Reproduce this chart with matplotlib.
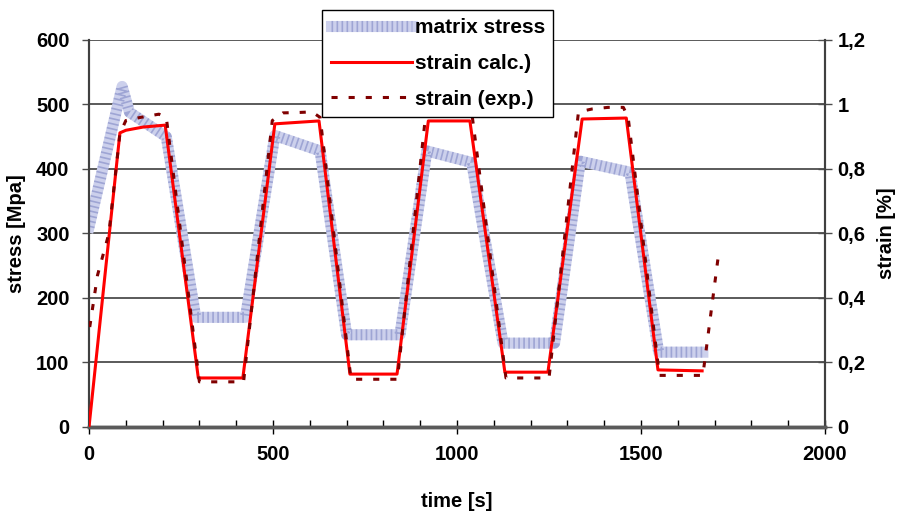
import matplotlib
matplotlib.use('Agg')
import matplotlib.pyplot as plt
from matplotlib.ticker import MultipleLocator, FixedLocator, FuncFormatter
from matplotlib.legend_handler import HandlerTuple

plt.rcParams['font.family'] = ['Liberation Sans', 'DejaVu Sans']
plt.rcParams['font.weight'] = 'bold'

# matrix stress [MPa] vs time [s]
t_matrix = [0, 90, 110, 210, 290, 425, 505, 628, 700, 845, 918, 1040, 1125, 1265, 1335, 1470, 1548, 1668]
matrix_stress = [310, 528, 488, 450, 170, 170, 452, 428, 143, 143, 428, 410, 130, 130, 412, 395, 116, 116]

# calculated strain [%]
t_calc = [0, 84, 100, 147, 207, 297, 418, 505, 625, 709, 837, 922, 1035, 1130, 1247, 1340, 1460, 1546, 1666]
strain_calc = [0, 0.912, 0.92, 0.93, 0.936, 0.152, 0.152, 0.94, 0.949, 0.164, 0.164, 0.949, 0.949,
               0.17, 0.17, 0.955, 0.958, 0.177, 0.174]

# measured strain [%]
t_exp = [2, 23, 54, 84, 100, 140, 190, 210, 300, 420, 498, 527, 565, 606, 628, 712, 838, 915, 960,
         1000, 1040, 1133, 1250, 1330, 1367, 1410, 1452, 1465, 1550, 1668, 1710]
strain_exp = [0.31, 0.47, 0.60, 0.91, 0.95, 0.96, 0.97, 0.96, 0.14, 0.14, 0.95, 0.974, 0.975, 0.977, 0.96,
              0.148, 0.148, 0.97, 0.98, 0.98, 0.975, 0.152, 0.152, 0.977, 0.986, 0.991, 0.991, 0.96,
              0.16, 0.16, 0.53]

y2_ticks = [0, 0.2, 0.4, 0.6, 0.8, 1.0, 1.2]

fs = 14.5
fig = plt.figure(figsize=(9, 5.18), dpi=100)
ax = fig.add_axes([0.0989, 0.1757, 0.8178, 0.7471])
ax2 = ax.twinx()

# textured band for matrix stress
band1, = ax.plot(t_matrix, matrix_stress, color='#ccd0ec', lw=8, solid_joinstyle='round', zorder=2)
band2, = ax.plot(t_matrix, matrix_stress, color='#4a55a8', lw=8, alpha=0.35,
                 dashes=(0.15, 0.3), dash_capstyle='butt', dash_joinstyle='round', zorder=2)

calc_line, = ax2.plot(t_calc, strain_calc, color='#ff0000', lw=2.2, zorder=3)
exp_line, = ax2.plot(t_exp, strain_exp, color='#800000', lw=2.2, dashes=(2.0, 3.6), zorder=4)

ax.set_xlim(0, 2000)
ax.set_ylim(0, 600)
ax2.set_ylim(0, 1.2)

ax.yaxis.set_major_locator(MultipleLocator(100))
ax.grid(axis='y', color='#4d4d4d', lw=1.3)
ax.set_axisbelow(True)

ax.xaxis.set_major_locator(MultipleLocator(500))
ax.xaxis.set_minor_locator(MultipleLocator(100))
ax.tick_params(axis='x', which='major', direction='inout', length=10, width=1, pad=8, labelsize=fs)
ax.tick_params(axis='x', which='minor', direction='in', length=5, width=1)
ax.tick_params(axis='y', direction='out', length=5, width=1, color='#4d4d4d', pad=9, labelsize=fs)

ax2.yaxis.set_major_locator(FixedLocator(y2_ticks))
ax2.yaxis.set_major_formatter(FuncFormatter(lambda v, p: ('%g' % round(v, 1)).replace('.', ',')))
ax2.tick_params(axis='y', direction='inout', length=10, width=1, color='#4d4d4d', pad=4, labelsize=fs)

for a in (ax, ax2):
    a.spines['top'].set_visible(False)
    a.spines['left'].set_color('#404040')
    a.spines['left'].set_linewidth(1.5)
    a.spines['right'].set_color('#404040')
    a.spines['right'].set_linewidth(1.5)
    a.spines['bottom'].set_color('#5a5a5a')
    a.spines['bottom'].set_linewidth(2.5)

ax.set_xlabel('time [s]', fontsize=fs, fontweight='bold', labelpad=20)
ax.set_ylabel('stress [Mpa]', fontsize=fs, fontweight='bold', labelpad=7)
ax2.set_ylabel('strain [%]', fontsize=fs, fontweight='bold', labelpad=8)

leg = fig.legend([(band1, band2), calc_line, exp_line],
                 ['matrix stress', 'strain calc.)', 'strain (exp.)'],
                 handler_map={tuple: HandlerTuple(ndivide=1, pad=0)},
                 loc='upper left', bbox_to_anchor=(0.358, 0.981), fontsize=15,
                 frameon=True, fancybox=False, edgecolor='black', framealpha=1,
                 handlelength=3.9, handletextpad=0.15, borderpad=0.4, labelspacing=0.8,
                 borderaxespad=0)
leg.get_frame().set_linewidth(1.0)
leg.set_zorder(10)

fig.savefig('out.png', dpi=100)
